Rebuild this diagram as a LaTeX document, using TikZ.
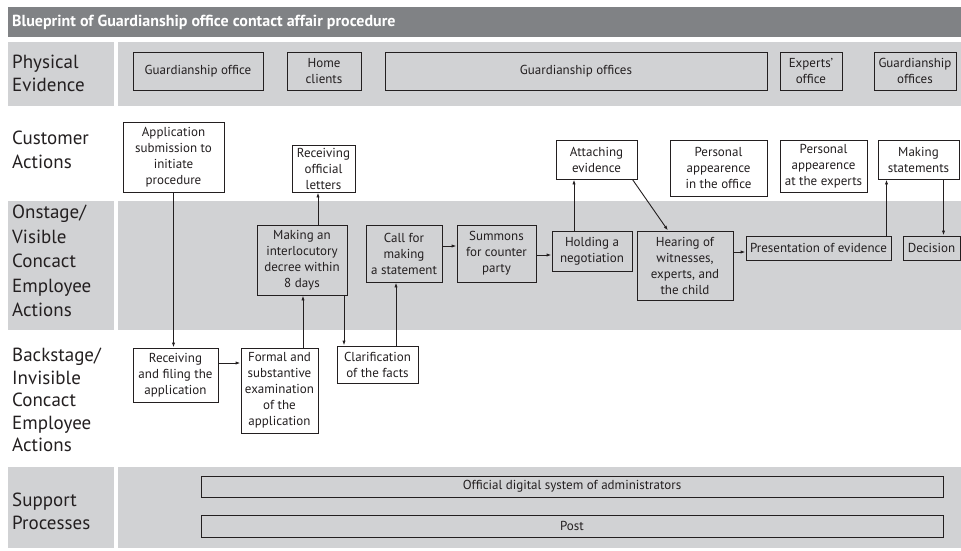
\documentclass[tikz,border=0pt]{standalone}
\usepackage{fontspec}
\setmainfont{PT Sans}
\usetikzlibrary{arrows.meta}
\definecolor{titlegray}{HTML}{808285}
\definecolor{lanegray}{HTML}{D1D2D4}
\definecolor{ink}{HTML}{231F20}
\begin{document}
\begin{tikzpicture}[x=1pt,y=-1pt,
  lane/.style={fill=lanegray,draw=none},
  lanelabel/.style={anchor=west,align=left,inner sep=0pt,text=ink,font=\fontsize{19pt}{23pt}\selectfont},
  box/.style={draw=ink,line width=0.9pt,inner sep=0pt,align=center,text=ink,font=\fontsize{13pt}{16pt}\selectfont},
  arr/.style={draw=ink,line width=0.9pt,-{Latex[length=5pt,width=3.2pt]}}]
\useasboundingbox (0,0) rectangle (961,550);
% title bar
\fill[titlegray] (8,7) rectangle (961,37);
\node[anchor=west,inner sep=0pt,text=white,font=\bfseries\fontsize{16pt}{18pt}\selectfont] (title) at (12,22) {Blueprint of Guardianship office contact affair procedure};
% lanes
\fill[lane] (8,42) rectangle (114,106);
\fill[lane] (118,42) rectangle (961,106);
\fill[lane] (8,201) rectangle (114,330);
\fill[lane] (118,201) rectangle (961,330);
\fill[lane] (8,467) rectangle (114,548);
\fill[lane] (118,467) rectangle (961,548);
% lane labels
\node[lanelabel] (lpe) at (12,73) {Physical\\Evidence};
\node[lanelabel,font=\fontsize{19pt}{24pt}\selectfont] (lca) at (12,150) {Customer\\Actions};
\node[lanelabel,font=\fontsize{19pt}{24.5pt}\selectfont] (lon) at (12,261) {Onstage/\\Visible\\Concact\\Employee\\Actions};
\node[lanelabel,font=\fontsize{19pt}{22.5pt}\selectfont] (lbs) at (12,400) {Backstage/\\Invisible\\Concact\\Employee\\Actions};
\node[lanelabel] (lsp) at (12,511) {Support\\Processes};
% physical evidence
\node[box,minimum width=130pt,minimum height=38pt] (pe1) at (198,71) {Guardianship office};
\node[box,minimum width=74pt,minimum height=38pt] (pe2) at (324,71) {Home\\clients};
\node[box,minimum width=382pt,minimum height=38pt] (pe3) at (576,71) {Guardianship offices};
\node[box,minimum width=62pt,minimum height=38pt] (pe4) at (811,71) {Experts’\\office};
\node[box,minimum width=82pt,minimum height=38pt] (pe5) at (915,71) {Guardianship\\offices};
% customer actions
\node[box,fill=white,minimum width=101pt,minimum height=70pt] (app) at (173.5,157) {Application\\submission to\\initiate\\procedure};
\node[box,fill=white,minimum width=63pt,minimum height=47pt] (rol) at (323.5,168.5) {Receiving\\official\\letters};
\node[box,fill=white,minimum width=81pt,minimum height=39pt] (att) at (596.5,159.5) {Attaching\\evidence};
\node[box,fill=white,minimum width=97pt,minimum height=56pt] (pao) at (718.5,168) {Personal\\appearence\\in the office};
\node[box,fill=white,minimum width=87pt,minimum height=52pt] (pae) at (823.5,166) {Personal\\appearence\\at the experts};
\node[box,fill=white,minimum width=81pt,minimum height=39pt] (ms) at (918.5,159.5) {Making\\statements};
% onstage
\node[box,minimum width=90pt,minimum height=70pt] (mid) at (302,260) {Making an\\interlocutory\\decree within\\8 days};
\node[box,minimum width=76pt,minimum height=57pt] (cfm) at (404,253.5) {Call for\\making\\a statement};
\node[box,minimum width=79pt,minimum height=57pt] (sum) at (496.5,253.5) {Summons\\for counter\\party};
\node[box,minimum width=80pt,minimum height=40pt] (hon) at (592,251) {Holding a\\negotiation};
\node[box,minimum width=96pt,minimum height=69pt] (hea) at (685,265.5) {Hearing of\\witnesses,\\experts, and\\the child};
\node[box,minimum width=145pt,minimum height=24pt] (poe) at (818.5,248) {Presentation of evidence};
\node[box,minimum width=57pt,minimum height=24pt] (dec) at (931.5,248) {Decision};
% backstage
\node[box,fill=white,minimum width=85pt,minimum height=54pt] (raf) at (175.5,375) {Receiving\\and filing the\\application};
\node[box,fill=white,minimum width=77pt,minimum height=85pt] (fse) at (279.5,390.5) {Formal and\\substantive\\examination\\of the\\application};
\node[box,fill=white,minimum width=81pt,minimum height=37pt] (cla) at (377.5,364.5) {Clarification\\of the facts};
% support
\node[box,minimum width=742pt,minimum height=21pt] (ods) at (572,486.5) {Official digital system of administrators};
\node[box,minimum width=742pt,minimum height=22pt] (post) at (572,526) {Post};
% connectors
\draw[arr] (app.south) -- (app.south |- raf.north);
\draw[arr] ([yshift=12pt]raf.east) -- ([yshift=12pt]raf.east -| fse.west);
\draw[arr] ([xshift=23.5pt]fse.north) -- ([xshift=23.5pt]fse.north |- mid.south);
\draw[arr] ([xshift=42pt]mid.south) -- ([xshift=42pt]mid.south |- cla.north);
\draw[arr] ([xshift=18.5pt]cla.north) -- ([xshift=18.5pt]cla.north |- cfm.south);
\draw[arr] ([xshift=16pt]mid.north) -- ([xshift=16pt]mid.north |- rol.south);
\draw[arr] ([yshift=7.5pt]cfm.east) -- ([yshift=7.5pt]cfm.east -| sum.west);
\draw[arr] ([yshift=-1.5pt]sum.east) -- ([yshift=-1.5pt]sum.east -| hon.west);
\draw[arr] ([xshift=-18pt]hon.north) -- ([xshift=-18pt]hon.north |- att.south);
\draw[arr] ([xshift=-5pt]att.south east) -- ([xshift=-17pt]hea.north);
\draw[arr] ([yshift=13.5pt]hea.east) -- ([yshift=13.5pt]hea.east -| poe.west);
\draw[arr] ([xshift=68pt]poe.north) -- ([xshift=68pt]poe.north |- ms.south);
\draw[arr] ([xshift=25pt]ms.south) -- ([xshift=25pt]ms.south |- dec.north);
\end{tikzpicture}
\end{document}
